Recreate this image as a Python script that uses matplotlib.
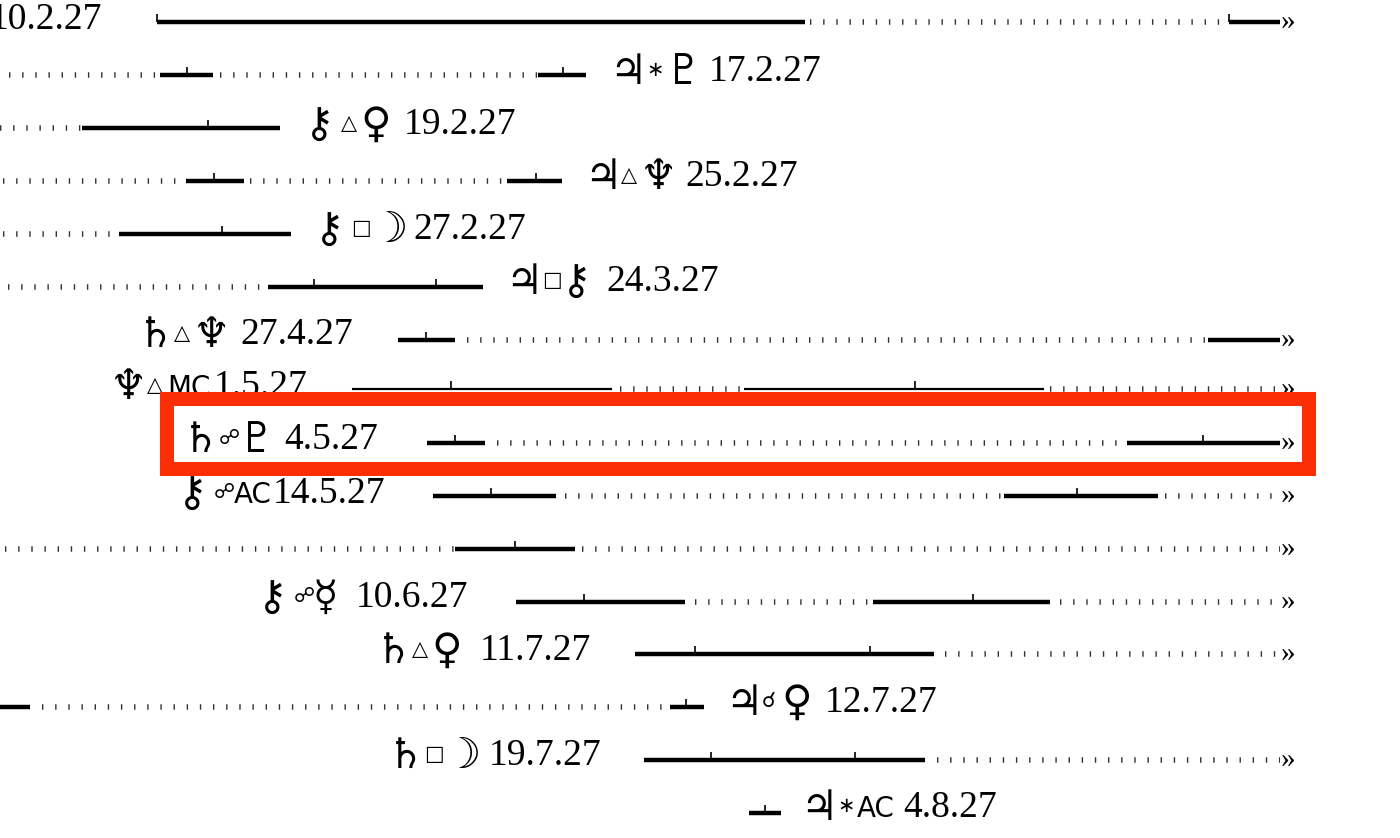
import numpy as np
import matplotlib
matplotlib.use("Agg")
import matplotlib.pyplot as plt
from matplotlib.patches import Rectangle

plt.rcParams['lines.scale_dashes'] = False

# one entry per row of the timeline, x and y read in picture pixels
row_y = [22, 75, 128, 181, 234, 287, 340, 389, 443, 496, 549, 602, 654, 707, 760, 813]
bodies = ["", "♃", "⚷", "♃", "⚷", "♃", "♄", "♆", "♄", "⚷", "", "⚷", "♄", "♃", "♄", "♃"]
aspects = ["", "∗", "△", "△", "□", "□", "△", "△", "☍", "☍", "", "☍", "△", "☌", "□", "∗"]
targets = ["", "♇", "♀", "♆", "☽", "⚷", "♆", "MC", "♇", "AC", "", "☿", "♀", "♀", "☽", "AC"]
dates = ["10.2.27", "17.2.27", "19.2.27", "25.2.27", "27.2.27", "24.3.27", "27.4.27", "1.5.27",
         "4.5.27", "14.5.27", "", "10.6.27", "11.7.27", "12.7.27", "19.7.27", "4.8.27"]
label_left = [0, 617, 312, 592, 322, 513, 145, 118, 190, 185, 0, 265, 383, 733, 395, 808]
label_right = [102, 822, 516, 798, 526, 719, 353, 308, 378, 385, 0, 468, 591, 937, 601, 997]
label_y = [16, 68, 121, 173, 226, 278, 331, 383, 436, 490, 0, 594, 647, 699, 752, 804]

solid = [[(157, 805), (1229, 1280)],
         [(160, 213), (538, 586)],
         [(82, 280)],
         [(186, 244), (507, 562)],
         [(119, 291)],
         [(268, 483)],
         [(398, 455), (1208, 1280)],
         [(352, 612), (744, 1044)],
         [(427, 485), (1127, 1280)],
         [(433, 556), (1004, 1158)],
         [(455, 575)],
         [(516, 685), (873, 1050)],
         [(635, 934)],
         [(0, 30), (670, 704)],
         [(644, 925)],
         [(749, 781)]]
dotted = [[(810, 1229)],
          [(9, 160), (220, 538)],
          [(0, 82)],
          [(3, 186), (250, 507)],
          [(3, 119)],
          [(8, 268)],
          [(467, 1208)],
          [(620, 744), (1050, 1280)],
          [(497, 1127)],
          [(565, 1004), (1165, 1280)],
          [(5, 455), (582, 1280)],
          [(695, 873), (1060, 1280)],
          [(945, 1280)],
          [(42, 670)],
          [(937, 1280)],
          []]
exact = [[157, 1229], [187, 563], [208], [214, 536], [222], [314, 436], [426], [451, 915],
         [455, 1203], [491, 1077], [515], [584, 973], [695, 870], [686], [711, 855], [765]]
goes_on = [1, 0, 0, 0, 0, 0, 1, 1, 1, 1, 1, 1, 1, 0, 1, 0]

serif = ['Liberation Serif', 'DejaVu Sans']
glyphs = ['DejaVu Sans']

fig = plt.figure(figsize=(14, 8.38), dpi=100)
ax = fig.add_axes([0, 0, 1, 1])
ax.set_xlim(0, 1400)
ax.set_ylim(838, 0)
ax.axis('off')

for i, y in enumerate(row_y):
    lw = 1.6 if y == 389 else 3.2
    for a, b in solid[i]:
        ax.plot([a, b], [y, y], color='black', lw=lw, solid_capstyle='butt')
    for a, b in dotted[i]:
        ax.plot([a, b], [y, y], color='#333333', lw=4.0, linestyle=(0, (1.0, 8.47)), dash_capstyle='butt')
    for t in exact[i]:
        ax.plot([t, t], [y, y - 8], color='black', lw=1.2, solid_capstyle='butt')
    if goes_on[i]:
        ax.text(1281, y, "»", family=serif, fontsize=21, ha='left', va='center')
    if dates[i]:
        ax.text(label_right[i], label_y[i] + 13, dates[i], family=serif, fontsize=27, ha='right', va='baseline')
    if bodies[i]:
        x = label_left[i]
        base = label_y[i] + 13
        ax.text(x - 8, base + 3, bodies[i], family=glyphs, fontsize=30, ha='left', va='baseline')
        ax.text(x + 29, base - 5, aspects[i], family=glyphs, fontsize=15, ha='left', va='baseline')
        if len(targets[i]) == 2:
            ax.text(x + 49, base, targets[i], family=glyphs, fontsize=20, ha='left', va='baseline')
        else:
            ax.text(x + 48, base + 3, targets[i], family=glyphs, fontsize=30, ha='left', va='baseline')

# highlighted row
ax.add_patch(Rectangle((167, 399), 1142, 70, facecolor='none', edgecolor='#fc2f04', lw=10.1, zorder=5, joinstyle='miter'))

fig.savefig("out.png", dpi=100)
